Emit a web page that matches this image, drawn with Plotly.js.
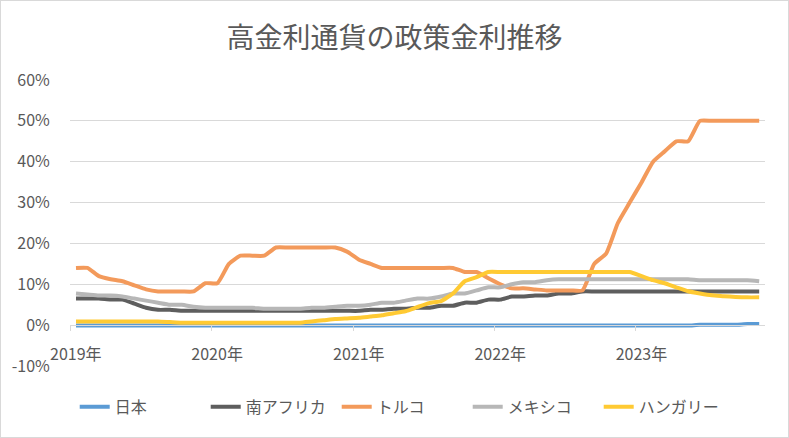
<!DOCTYPE html>
<html>
<head>
<meta charset="utf-8">
<script src="https://cdn.plot.ly/plotly-3.0.1.min.js"></script>
<style>
  html, body { margin: 0; padding: 0; background: #ffffff; }
  #chart { width: 787px; height: 436px; border: 1px solid #d9d9d9; }
</style>
</head>
<body>
<div id="chart"></div>
<script>
// Months (Jan 2019 .. Nov 2023), one value per month
const months = [];
for (let y = 2019; y <= 2023; y++) {
  for (let m = 1; m <= 12; m++) {
    if (y === 2023 && m > 11) break;
    months.push(y + '-' + String(m).padStart(2, '0'));
  }
}

const seriesNames = ['日本', '南アフリカ', 'トルコ', 'メキシコ', 'ハンガリー'];

const japan = [
  -0.1,-0.1,-0.1,-0.1,-0.1,-0.1,-0.1,-0.1,-0.1,-0.1,-0.1,-0.1,
  -0.1,-0.1,-0.1,-0.1,-0.1,-0.1,-0.1,-0.1,-0.1,-0.1,-0.1,-0.1,
  -0.1,-0.1,-0.1,-0.1,-0.1,-0.1,-0.1,-0.1,-0.1,-0.1,-0.1,-0.1,
  -0.1,-0.1,-0.1,-0.1,-0.1,-0.1,-0.1,-0.1,-0.1,-0.1,-0.1,-0.1,
  -0.1,-0.1,-0.1,-0.1,-0.1,0.1,0.1,0.1,0.1,0.25,0.25
];
const southAfrica = [
  6.5,6.5,6.5,6.25,6.25,5.25,4.25,3.75,3.75,3.5,3.5,3.5,
  3.5,3.5,3.5,3.5,3.5,3.5,3.5,3.5,3.5,3.5,3.5,3.5,
  3.5,3.75,3.75,4.0,4.0,4.25,4.25,4.75,4.75,5.5,5.5,6.25,
  6.25,7.0,7.0,7.25,7.25,7.75,7.75,8.25,8.25,8.25,8.25,8.25,
  8.25,8.25,8.25,8.25,8.25,8.25,8.25,8.25,8.25,8.25,8.25
];
const turkey = [
  14,14,12,11.25,10.75,9.75,8.75,8.25,8.25,8.25,8.25,10.25,
  10.25,15,17,17,17,19,19,19,19,19,19,18,
  16,15,14,14,14,14,14,14,14,13,13,11.5,
  10,9,9,8.75,8.5,8.5,8.5,8.5,15,17.5,25,30,
  35,40,42.5,45,45,50,50,50,50,50,50
];
const mexico = [
  7.75,7.5,7.25,7.25,7.0,6.5,6.0,5.5,5.0,5.0,4.5,4.25,
  4.25,4.25,4.25,4.25,4.0,4.0,4.0,4.0,4.25,4.25,4.5,4.75,
  4.75,5.0,5.5,5.5,6.0,6.5,6.5,7.0,7.75,7.75,8.5,9.25,
  9.25,10.0,10.5,10.5,11.0,11.25,11.25,11.25,11.25,11.25,11.25,11.25,
  11.25,11.25,11.25,11.25,11.25,11.0,11.0,11.0,11.0,11.0,10.75
];
const hungary = [
  0.9,0.9,0.9,0.9,0.9,0.9,0.9,0.9,0.75,0.6,0.6,0.6,
  0.6,0.6,0.6,0.6,0.6,0.6,0.6,0.6,0.9,1.2,1.5,1.65,
  1.8,2.1,2.4,2.9,3.4,4.4,5.4,5.9,7.75,10.75,11.75,13,
  13,13,13,13,13,13,13,13,13,13,13,13,
  12,11,10.25,9.25,8.3,7.75,7.3,7.1,6.9,6.8,6.8
];

const yearTickVals = ['2019-01-16', '2020-01-16', '2021-01-16', '2022-01-16', '2023-01-16'];
const yearTickText = ['2019年', '2020年', '2021年', '2022年', '2023年'];
const yTickVals = [-10, 0, 10, 20, 30, 40, 50, 60];
const yTickText = ['-10%', '0%', '10%', '20%', '30%', '40%', '50%', '60%'];

const colors = ['#5B9BD5', '#5E5E5E', '#F39A5B', '#B7B7B7', '#FFCA33'];
const data = [japan, southAfrica, turkey, mexico, hungary];

const traces = data.map((vals, k) => ({
  type: 'scatter',
  mode: 'lines',
  name: seriesNames[k],
  x: months,
  y: vals,
  xperiod: 'M1',
  xperiodalignment: 'middle',
  line: { color: colors[k], width: 4, shape: 'spline', smoothing: 0.5 },
  hoverinfo: 'x+y+name'
}));

const font = '"Noto Sans CJK JP", "Noto Sans", sans-serif';

const layout = {
  width: 787,
  height: 436,
  paper_bgcolor: '#ffffff',
  plot_bgcolor: '#ffffff',
  margin: { l: 69, r: 23, t: 79, b: 71 },
  font: { family: font, color: '#595959', size: 16 },
  title: {
    text: '高金利通貨の政策金利推移',
    font: { family: font, size: 28, color: '#595959' },
    x: 0.5, xref: 'container', xanchor: 'center',
    y: 1 - 37 / 436, yref: 'container', yanchor: 'middle'
  },
  xaxis: {
    type: 'date',
    range: ['2019-01-01', '2023-12-01'],
    anchor: 'free',
    position: 1 / 7,
    showgrid: false,
    zeroline: false,
    showline: true,
    linecolor: '#d9d9d9',
    linewidth: 1,
    tickmode: 'array',
    tickvals: yearTickVals,
    ticktext: yearTickText,
    ticks: 'outside',
    ticklen: 15,
    tickcolor: 'rgba(0,0,0,0)',
    tickfont: { family: font, size: 16, color: '#595959' },
    minor: {
      ticks: 'outside',
      ticklen: 5,
      tickcolor: '#d9d9d9',
      tick0: '2019-01-01',
      dtick: 'M12',
      showgrid: false
    },
    fixedrange: true
  },
  yaxis: {
    range: [-10, 60],
    tickmode: 'array',
    tickvals: yTickVals,
    ticktext: yTickText,
    showgrid: true,
    gridcolor: '#d9d9d9',
    gridwidth: 1,
    zeroline: false,
    showline: false,
    ticks: 'outside',
    ticklen: 16,
    tickcolor: 'rgba(0,0,0,0)',
    tickfont: { family: font, size: 16, color: '#595959' },
    fixedrange: true
  },
  showlegend: true,
  legend: {
    orientation: 'h',
    x: 0.478, xanchor: 'center',
    y: -0.143, yanchor: 'middle',
    font: { family: font, size: 16, color: '#595959' },
    itemwidth: 30,
    entrywidth: 86,
    entrywidthmode: 'pixels',
    traceorder: 'normal'
  }
};

Plotly.newPlot('chart', traces, layout, { displayModeBar: false, staticPlot: true });
</script>
</body>
</html>
